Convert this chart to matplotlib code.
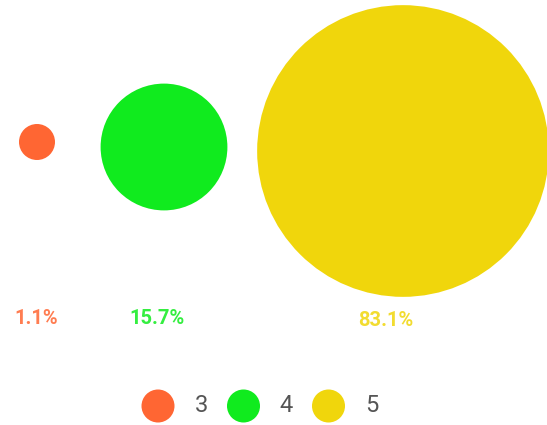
import numpy as np
import matplotlib.pyplot as plt
from matplotlib.patches import Circle

plt.rcParams['font.family'] = ['Roboto', 'DejaVu Sans']

# 各评分占比
categories = ['3', '4', '5']
shares = [1.1, 15.7, 83.1]
colors = ['#FF6633', '#10EB1E', '#F0D60C']

# 布局（像素坐标）
centers_x = [37, 164, 403]
centers_y = [142, 147, 151]
label_x = [36, 157, 386]
label_y = [318, 318, 320]
scale = 16.0  # 半径 = scale * sqrt(占比)

fig = plt.figure(figsize=(5.47, 4.25), dpi=100)
ax = fig.add_axes([0, 0, 1, 1])
ax.set_xlim(0, 547)
ax.set_ylim(425, 0)
ax.set_aspect('equal')
ax.axis('off')

for i in range(len(shares)):
    r = max(scale * np.sqrt(shares[i]), 18)
    ax.add_patch(Circle((centers_x[i], centers_y[i]), r, color=colors[i], lw=0))
    ax.text(label_x[i], label_y[i], '{:.1f}%'.format(shares[i]),
            color=colors[i], alpha=0.85, fontsize=14.5, fontweight='bold',
            ha='center', va='center')

# 图例
leg_x = [158, 243.5, 328.5]
for i in range(len(categories)):
    ax.add_patch(Circle((leg_x[i], 406), 16.5, color=colors[i], lw=0))
    ax.text(leg_x[i] + 43, 406, categories[i], color='#555555', fontsize=17,
            ha='center', va='center')

fig.savefig('out.png', dpi=100)
